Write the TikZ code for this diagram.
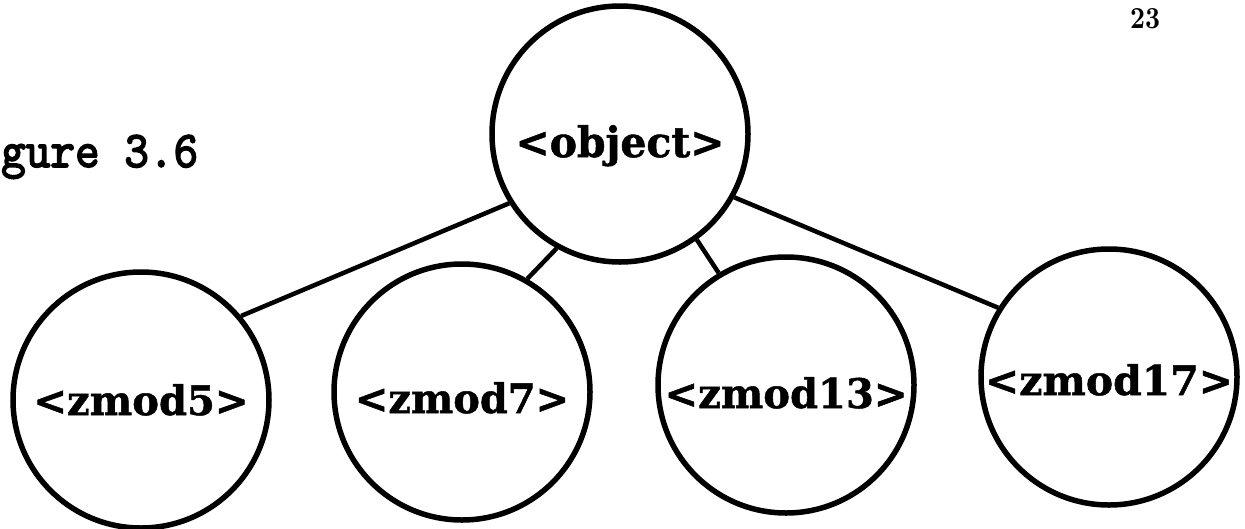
\documentclass[tikz,border=0pt]{standalone}
\usepackage{fontspec}
\newfontfamily\labelfont{DejaVu Serif}[BoldFeatures={FakeBold=1.2}]
\newfontfamily\capfont{lmmono10-regular.otf}[FakeBold=3]
% label set to an exact width and cap height
\newcommand\fitlabel[3]{\resizebox{#1}{#2}{\labelfont\bfseries #3}}
\begin{document}
\begin{tikzpicture}[x=1pt,y=-1pt,
  classnode/.style={circle, draw, line width=5.5pt, minimum size=256pt,
    inner sep=0pt, text height=#1, text depth=0pt},
  link/.style={line width=4.5pt},
  plain/.style={inner sep=0pt, anchor=base west}]
\useasboundingbox (0,0) rectangle (1245,528);

% page number and caption
\node[plain] (page) at (1130,28) {\resizebox{30pt}{20pt}{\bfseries 23}};
\node[plain] (caption) at (1,167) {\resizebox{197pt}{32pt}{\capfont gure 3.6}};

% class hierarchy
\node[classnode=46pt] (obj) at (620,134) {\fitlabel{209pt}{32pt}{<object>}};
\node[classnode=30pt] (z5)  at (141,400) {\fitlabel{215pt}{31pt}{<zmod5>}};
\node[classnode=42pt] (z7)  at (462,392) {\fitlabel{214pt}{31pt}{<zmod7>}};
\node[classnode=46pt] (z13) at (786,385) {\fitlabel{243pt}{31pt}{<zmod13>}};
\node[classnode=36pt] (z17) at (1109,377) {\fitlabel{248pt}{31pt}{<zmod17>}};

\draw[link] (obj.212) -- (z5.40);
\draw[link] (obj.241) -- (z7.60);
\draw[link] (obj.306) -- (z13.121);
\draw[link] (obj.331) -- (z17.148);
\end{tikzpicture}
\end{document}
